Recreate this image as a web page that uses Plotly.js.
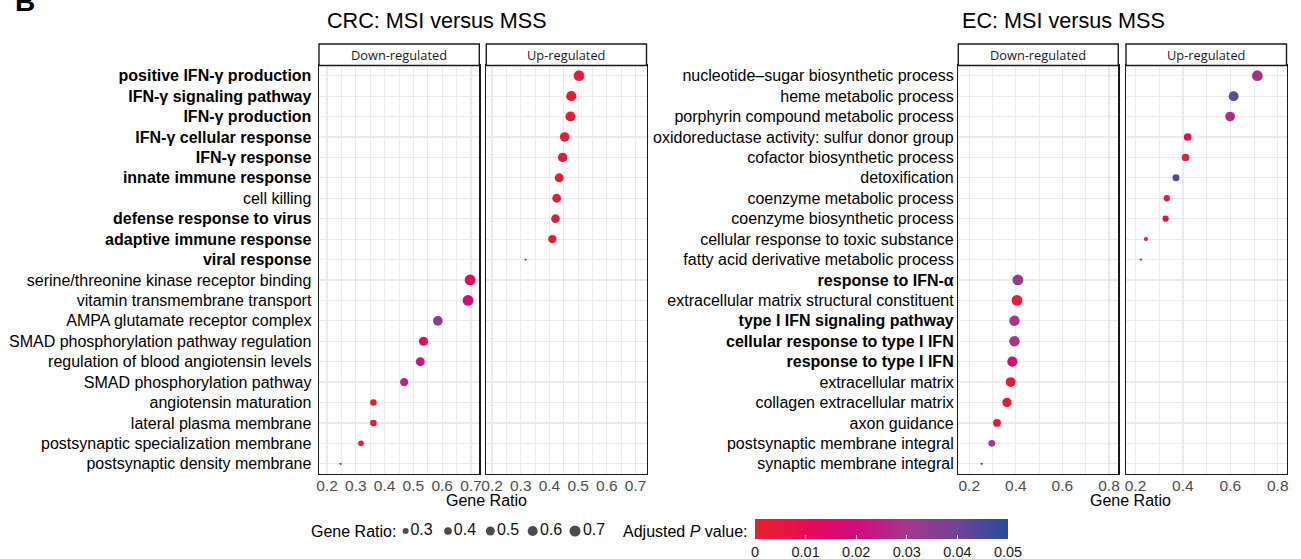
<!DOCTYPE html>
<html>
<head>
<meta charset="utf-8">
<script src="https://cdn.plot.ly/plotly-3.0.1.min.js"></script>
<style>html,body{margin:0;padding:0;background:#fff;overflow:hidden;}#chart{width:1301px;height:559px;}</style>
</head>
<body>
<div id="chart"></div>
<script>
// ---------------- data ----------------
const crcUpTerms = ['positive IFN-γ production','IFN-γ signaling pathway','IFN-γ production','IFN-γ cellular response','IFN-γ response','innate immune response','cell killing','defense response to virus','adaptive immune response','viral response'];
const crcUpRatio = [0.503, 0.476, 0.473, 0.453, 0.446, 0.434, 0.425, 0.421, 0.410, 0.317];
const crcUpPadj  = [0.002, 0.003, 0.002, 0.003, 0.003, 0.003, 0.003, 0.003, 0.003, 0.004];

const crcDownTerms = ['serine/threonine kinase receptor binding','vitamin transmembrane transport','AMPA glutamate receptor complex','SMAD phosphorylation pathway regulation','regulation of blood angiotensin levels','SMAD phosphorylation pathway','angiotensin maturation','lateral plasma membrane','postsynaptic specialization membrane','postsynaptic density membrane'];
const crcDownRatio = [0.697, 0.690, 0.585, 0.535, 0.524, 0.468, 0.361, 0.361, 0.318, 0.247];
const crcDownPadj  = [0.012, 0.019, 0.035, 0.009, 0.022, 0.026, 0.003, 0.003, 0.004, 0.007];

const crcBoldTerms = ['positive IFN-γ production','IFN-γ signaling pathway','IFN-γ production','IFN-γ cellular response','IFN-γ response','innate immune response','defense response to virus','adaptive immune response','viral response'];

const ecUpTerms = ['nucleotide–sugar biosynthetic process','heme metabolic process','porphyrin compound metabolic process','oxidoreductase activity: sulfur donor group','cofactor biosynthetic process','detoxification','coenzyme metabolic process','coenzyme biosynthetic process','cellular response to toxic substance','fatty acid derivative metabolic process'];
const ecUpRatio = [0.714, 0.614, 0.599, 0.420, 0.411, 0.371, 0.332, 0.327, 0.244, 0.223];
const ecUpPadj  = [0.028, 0.042, 0.028, 0.010, 0.002, 0.044, 0.004, 0.006, 0.002, 0.022];

const ecDownTerms = ['response to IFN-α','extracellular matrix structural constituent','type I IFN signaling pathway','cellular response to type I IFN','response to type I IFN','extracellular matrix','collagen extracellular matrix','axon guidance','postsynaptic membrane integral','synaptic membrane integral'];
const ecDownRatio = [0.409, 0.405, 0.394, 0.394, 0.385, 0.378, 0.362, 0.319, 0.297, 0.253];
const ecDownPadj  = [0.032, 0.002, 0.029, 0.029, 0.017, 0.003, 0.002, 0.005, 0.030, 0.047];

const ecBoldTerms = ['response to IFN-α','type I IFN signaling pathway','cellular response to type I IFN','response to type I IFN'];

const sizeLegendBreaks = [0.3, 0.4, 0.5, 0.6, 0.7];
const padjTicks = [0, 0.01, 0.02, 0.03, 0.04, 0.05];
const padjTickText = ['0', '0.01', '0.02', '0.03', '0.04', '0.05'];

// ---------------- helpers ----------------
const W = 1301, H = 559;
const px = x => x / W;
const py = y => 1 - y / H;
const FONT = 'Liberation Sans, Arial, Helvetica, sans-serif';
const DMIN = 2.3, DMAX = 10.8;
function sizeScale(vals) {
  const lo = Math.min(...vals), hi = Math.max(...vals);
  return vals.map(v => DMIN + (DMAX - DMIN) * Math.sqrt((v - lo) / (hi - lo)));
}
function legendSize(v) { return 2.5 + 8.7 * Math.sqrt((v - 0.22) / 0.5); }

const crcOrder = crcUpTerms.concat(crcDownTerms);
const ecOrder = ecUpTerms.concat(ecDownTerms);
const fmt = (terms, bold) => terms.map(t => bold.includes(t) ? '<b>' + t + '</b>' : t);

const coloraxis = {
  cmin: 0, cmax: 0.05,
  colorscale: [[0, '#E8222B'], [0.2, '#E80B52'], [0.4, '#D20B7E'], [0.6, '#A6368B'], [0.8, '#6E4495'], [1, '#244D9D']],
  colorbar: {
    orientation: 'h', x: px(881.5), xanchor: 'center', y: py(518.5), yanchor: 'top',
    len: 253, lenmode: 'pixels', thickness: 19.5, thicknessmode: 'pixels',
    outlinewidth: 0, xpad: 0, ypad: 0,
    tickmode: 'array', tickvals: padjTicks, ticktext: padjTickText,
    ticks: 'inside', ticklen: 4, tickcolor: '#ffffff', tickwidth: 1,
    tickfont: {family: FONT, size: 14.5, color: '#1a1a1a'}
  }
};

function facetTrace(terms, ratio, padj, xa, ya) {
  return {
    type: 'scatter', mode: 'markers', x: ratio, y: terms, xaxis: xa, yaxis: ya,
    marker: {size: sizeScale(ratio), color: padj, coloraxis: 'coloraxis', line: {width: 0}, opacity: 1},
    cliponaxis: false, showlegend: false, hoverinfo: 'x+y'
  };
}

const traces = [
  facetTrace(crcDownTerms, crcDownRatio, crcDownPadj, 'x', 'y'),
  facetTrace(crcUpTerms, crcUpRatio, crcUpPadj, 'x2', 'y2'),
  facetTrace(ecDownTerms, ecDownRatio, ecDownPadj, 'x3', 'y3'),
  facetTrace(ecUpTerms, ecUpRatio, ecUpPadj, 'x4', 'y4'),
  {
    type: 'scatter', mode: 'markers+text', xaxis: 'x5', yaxis: 'y5',
    x: sizeLegendBreaks.map(String), y: sizeLegendBreaks.map(() => 0),
    text: sizeLegendBreaks.map(String), textposition: 'middle right',
    textfont: {family: FONT, size: 16, color: '#111'},
    marker: {size: sizeLegendBreaks.map(legendSize), color: '#000', line: {width: 0}},
    cliponaxis: false, showlegend: false, hoverinfo: 'skip'
  }
];

// panel geometry (pixels)
const panelTop = 65.5, panelBot = 474, stripTop = 44;
const panels = [
  {x0: 319, x1: 479.3, range: [0.172, 0.729], dtick: 0.1, minor: 0.05},
  {x0: 486.3, x1: 646.5, range: [0.180, 0.738], dtick: 0.1, minor: 0.05},
  {x0: 958.3, x1: 1118.3, range: [0.153, 0.840], dtick: 0.2, minor: 0.1},
  {x0: 1126, x1: 1286.5, range: [0.160, 0.837], dtick: 0.2, minor: 0.1}
];
const GRID = '#EBEBEB';
const layout = {
  width: W, height: H, margin: {l: 0, r: 0, t: 0, b: 0, autoexpand: false},
  paper_bgcolor: '#fff', plot_bgcolor: '#fff', showlegend: false,
  font: {family: FONT, color: '#000'},
  coloraxis: coloraxis,
  shapes: [], annotations: []
};
const ydom = [py(panelBot), py(panelTop)];
panels.forEach((p, i) => {
  const n = i === 0 ? '' : String(i + 1);
  const isCRC = i < 2;
  const order = isCRC ? crcOrder : ecOrder;
  const bold = isCRC ? crcBoldTerms : ecBoldTerms;
  layout['xaxis' + n] = {
    domain: [px(p.x0), px(p.x1)], anchor: 'y' + n, range: p.range,
    tickmode: 'linear', tick0: 0.2, dtick: p.dtick, tickformat: '.1f',
    showgrid: true, gridcolor: GRID, gridwidth: 1.2,
    minor: {showgrid: true, dtick: p.minor, tick0: 0.2, gridcolor: GRID, gridwidth: 1},
    zeroline: false, showline: true, linecolor: '#1a1a1a', linewidth: 1.4, mirror: true,
    ticks: '', ticklen: 0, ticklabelstandoff: -3,
    tickfont: {family: FONT, size: 15.5, color: '#4D4D4D'}, fixedrange: true
  };
  layout['yaxis' + n] = {
    domain: ydom, anchor: 'x' + n, type: 'category',
    categoryorder: 'array', categoryarray: order, range: [19.5, -0.5],
    tickmode: 'array', tickvals: order, ticktext: fmt(order, bold),
    showticklabels: (i % 2 === 0), ticks: '', ticklen: 0, ticklabelstandoff: isCRC ? 3 : 0,
    tickfont: {family: FONT, size: 16, color: '#000'},
    showgrid: true, gridcolor: GRID, gridwidth: 1.2, zeroline: false,
    showline: true, linecolor: '#1a1a1a', linewidth: 1.4, mirror: true, fixedrange: true
  };
  // strip
  layout.shapes.push({type: 'rect', xref: 'paper', yref: 'paper', x0: px(p.x0), x1: px(p.x1), y0: py(panelTop), y1: py(stripTop),
    line: {color: '#1a1a1a', width: 1.4}, fillcolor: '#ffffff'});
  layout.annotations.push({xref: 'paper', yref: 'paper', x: px((p.x0 + p.x1) / 2), y: py((stripTop + panelTop) / 2 + 0.5),
    xanchor: 'center', yanchor: 'middle', showarrow: false, text: (i % 2 === 0) ? 'Down-regulated' : 'Up-regulated',
    font: {family: 'Open Sans, sans-serif', size: 12.8, color: '#1a1a1a'}});
});
// size legend axes
layout.xaxis5 = {domain: [px(384.5), px(596.2)], anchor: 'y5', type: 'category', categoryarray: sizeLegendBreaks.map(String),
  range: [-0.5, 4.5], visible: false, fixedrange: true};
layout.yaxis5 = {domain: [py(541), py(521)], anchor: 'x5', range: [-1, 1], visible: false, fixedrange: true};

const ann = (x, y, text, size, extra) => Object.assign({xref: 'paper', yref: 'paper', x: px(x), y: py(y), text: text,
  showarrow: false, font: {family: FONT, size: size, color: '#000'}}, extra || {});
layout.annotations.push(
  ann(325, 20.5, 'CRC: MSI versus MSS', 21.6, {xanchor: 'left', yanchor: 'middle'}),
  ann(960, 20.5, 'EC: MSI versus MSS', 21.6, {xanchor: 'left', yanchor: 'middle'}),
  ann(486.5, 500.5, 'Gene Ratio', 16, {xanchor: 'center', yanchor: 'middle'}),
  ann(1130, 500.5, 'Gene Ratio', 16, {xanchor: 'center', yanchor: 'middle'}),
  ann(309, 531, 'Gene Ratio:', 16, {xanchor: 'left', yanchor: 'middle'}),
  ann(621, 531, 'Adjusted <i>P</i> value:', 16, {xanchor: 'left', yanchor: 'middle'}),
  ann(13, 19, '<b>B</b>', 28, {xanchor: 'left', yanchor: 'bottom'})
);

Plotly.newPlot('chart', traces, layout, {displayModeBar: false, staticPlot: true});
</script>
</body>
</html>
